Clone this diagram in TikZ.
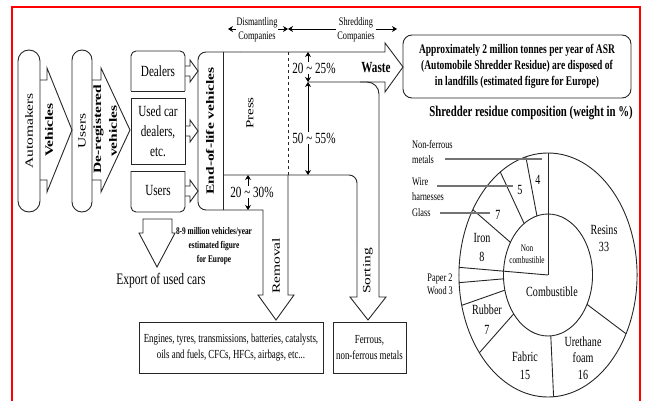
\documentclass[tikz,border=0pt]{standalone}
\usepackage{fontspec}
\setmainfont{Liberation Serif}[FakeStretch=0.72]
\newfontfamily\uprightfont{Liberation Serif}
\usepackage{graphicx}
\usepackage{tikz}
\usetikzlibrary{arrows,arrows.meta}
\newcommand{\pxfont}[2]{\fontsize{#1}{#2}\selectfont}
\newcommand{\vsq}[1]{\scalebox{1}[0.72]{#1}}
\tikzstyle{shp}        = [line width=0.9pt, draw=black!85]
\tikzstyle{rot}        = [rotate=90, inner sep=0pt, align=center]
\tikzstyle{txt}        = [inner sep=1pt, align=center]
\tikzstyle{whitebg}    = [fill=white, inner sep=1pt, align=center]
\tikzstyle{rangearrow} = [line width=0.7pt, {Stealth[length=5pt,width=6pt]}-{Stealth[length=5pt,width=6pt]}]
\tikzstyle{leader}     = [line width=1.3pt, draw=black!55]

\begin{document}
\begin{tikzpicture}[x=1pt,y=-1pt]
    \useasboundingbox (0,0) rectangle (645,401);
    \draw[red, line width=2pt] (12,401) -- (12,7) -- (640,7) -- (640,401);

    % automakers -> users
    \draw[shp, rounded corners=11pt] (18,50) rectangle (40,212);
    \draw[shp] (40,80) -- (47,80) -- (47,68) -- (72,130) -- (47,192) -- (47,180) -- (40,180);
    \draw[shp, rounded corners=10pt] (72,50) rectangle (92,212);
    \draw[shp] (92,80) -- (101,80) -- (101,68) -- (130,130) -- (101,192) -- (101,180) -- (92,180);
    \node[rot, font=\uprightfont\pxfont{15.5}{15}] (automakers) at (29,131) {\vsq{Automakers}};
    \node[rot, font=\uprightfont\bfseries\pxfont{15.5}{15}] (vehicles) at (49,130) {\vsq{Vehicles}};
    \node[rot, font=\uprightfont\pxfont{15.5}{15}] (users) at (82,131) {\vsq{Users}};
    \node[rot, font=\uprightfont\bfseries\pxfont{15.5}{15}] (dereg) at (98.5,129) {\vsq{De-registered}};
    \node[rot, font=\uprightfont\bfseries\pxfont{15.5}{15}] (deregveh) at (113,131) {\vsq{vehicles}};

    % dealers, used car dealers, users
    \draw[shp, rounded corners=5pt] (131,91) -- (131,51) -- (185,51) -- (185,91);
    \draw[shp] (131,91) -- (185,91);
    \draw[shp] (131,98) rectangle (185,164);
    \draw[shp, rounded corners=5pt] (131,171) -- (131,212) -- (185,212) -- (185,171);
    \draw[shp] (131,171) -- (185,171);
    \node[txt, font=\pxfont{15.5}{20}] (dealers) at (158,71) {Dealers};
    \node[txt, font=\pxfont{15.5}{20}] (usedcar) at (158,131) {Used car\\dealers,\\etc.};
    \node[txt, font=\pxfont{15.5}{20}] (owners) at (158,191) {Users};
    \foreach \yc in {71,131,191}
        \draw[shp] (185,\yc-5) -- (190,\yc-5) -- (190,\yc-11) -- (198,\yc) -- (190,\yc+11) -- (190,\yc+5) -- (185,\yc+5);

    % end-of-life vehicles, press, waste, removal, sorting
    \draw[shp, rounded corners=8pt] (240,52) -- (198,52) -- (198,210) -- (240,210);
    \draw[shp] (240,52) -- (385,52) -- (385,43) -- (403,67) -- (385,92) -- (385,82) -- (308,82);
    \draw[shp] (240,210) -- (263,210) -- (263,295) -- (258,295) -- (276,320) -- (294,295) -- (288,295) -- (288,175);
    \draw[shp, dashed] (288,175) -- (288,52);
    \draw[shp] (223,52) -- (223,210);
    \draw[shp, rounded corners=8pt] (223,175) -- (357,175) -- (357,240);
    \draw[shp] (357,240) -- (357,297) -- (350,297) -- (368,320) -- (386,297) -- (379,297) -- (379,240);
    \draw[shp, rounded corners=12pt] (360,82) -- (379,82) -- (379,240);
    \node[rot, font=\uprightfont\bfseries\pxfont{15.5}{15}] (eol) at (210,131) {\vsq{End-of-life vehicles}};
    \node[rot, font=\uprightfont\pxfont{15}{15}] (press) at (250,113) {\vsq{Press}};
    \node[rot, font=\uprightfont\pxfont{15.5}{15}] (removal) at (276,266) {\vsq{Removal}};
    \node[rot, font=\uprightfont\pxfont{15.5}{15}] (sorting) at (368,271) {\vsq{Sorting}};
    \node[txt, font=\bfseries\pxfont{15.5}{18}] (waste) at (376,68) {Waste};

    % companies
    \coordinate (d1) at (228,29);
    \coordinate (d2) at (288,29);
    \coordinate (d3) at (397,29);
    \draw[rangearrow] (d1) -- (d2);
    \draw[rangearrow] (d2) -- (d3);
    \node[whitebg, font=\pxfont{11.5}{14}] (dism) at (257,30) {Dismantling\\Companies};
    \node[whitebg, font=\pxfont{11.5}{14}] (shred) at (356,30) {Shredding\\Companies};

    % percentages
    \coordinate (p0) at (308,52);
    \coordinate (p1) at (308,82);
    \coordinate (p2) at (308,175);
    \coordinate (q0) at (248,175);
    \coordinate (q1) at (248,210);
    \draw[rangearrow] (p0) -- (p1);
    \draw[rangearrow] (p1) -- (p2);
    \draw[rangearrow] (q0) -- (q1);
    \node[whitebg, font=\pxfont{15.5}{18}] (r1) at (314,68) {20 \textasciitilde{} 25\%};
    \node[whitebg, font=\pxfont{15.5}{18}] (r2) at (314,138) {50 \textasciitilde{} 55\%};
    \node[whitebg, font=\pxfont{15.5}{18}] (r3) at (252,192) {20 \textasciitilde{} 30\%};

    % export
    \draw[shp] (143,219) -- (172,219) -- (172,233) -- (175,233) -- (157,267) -- (139,233) -- (143,233) -- cycle;
    \node[txt, font=\bfseries\pxfont{10.2}{14}] (million) at (214,246) {8-9 million vehicles/year\\estimated figure\\for Europe};
    \node[txt, font=\pxfont{16}{18}] (export) at (161,281) {Export of used cars};

    % outputs
    \node[shp, txt, minimum width=184pt, minimum height=51pt, font=\pxfont{12.3}{16}] (parts) at (231,347.5) {Engines, tyres, transmissions, batteries, catalysts,\\oils and fuels, CFCs, HFCs, airbags, etc...};
    \node[shp, txt, minimum width=73pt, minimum height=51pt, font=\pxfont{12.3}{16}] (metals) at (369.5,347.5) {Ferrous,\\non-ferrous metals};
    \node[shp, txt, rounded corners=9pt, minimum width=228pt, minimum height=63pt, font=\bfseries\pxfont{13.2}{16}] (asr) at (517,66.5) {Approximately 2 million tonnes per year of ASR\\(Automobile Shredder Residue) are disposed of\\in landfills (estimated figure for Europe)};

    % composition
    \node[txt, font=\bfseries\pxfont{15}{18}] (title) at (531,113) {Shredder residue composition (weight in \%)};
    \begin{scope}[shift={(548,275)}, x=0.73pt, y=1pt]
        \draw[shp] (0,0) circle [radius=122];
        \draw[shp] (0,0) circle [radius=61];
        \draw[shp] (0,0) -- (90:122);
        \draw[shp] (0,0) -- (176.4:122);
        \foreach \a in {104.4,122.4,147.6,183.6,194.4,219.6,273.6,331.2}
            \draw[shp] (\a:61) -- (\a:122);
    \end{scope}
    \node[txt, font=\pxfont{14}{17}] (resins) at (604,238) {Resins\\33};
    \node[txt, font=\pxfont{14}{16.5}] (urethane) at (583,358) {Urethane\\foam\\16};
    \node[txt, font=\pxfont{14}{18}] (fabric) at (525,366) {Fabric\\15};
    \node[txt, font=\pxfont{14}{20}] (rubber) at (487,320) {Rubber\\7};
    \node[txt, font=\pxfont{14}{19}] (iron) at (482,247) {Iron\\8};
    \node[txt, font=\pxfont{14}{17}] (combust) at (552,292) {Combustible};
    \node[txt, font=\pxfont{10}{12}] (noncomb) at (527,254) {Non\\combustible};
    \node[txt, font=\pxfont{14}{17}] (nfval) at (538,180) {4};
    \node[txt, font=\pxfont{14}{17}] (wireval) at (520,190) {5};
    \node[txt, font=\pxfont{14}{17}] (glassval) at (498,215) {7};
    \node[txt, font=\pxfont{11.5}{13}] (paperwood) at (440,284) {Paper 2\\Wood 3};
    \node[txt, anchor=west, align=left, font=\pxfont{11.5}{15}] (nf) at (411,152.5) {Non-ferrous\\metals};
    \node[txt, anchor=west, align=left, font=\pxfont{11.5}{15}] (wire) at (411,189.5) {Wire\\harnesses};
    \node[txt, anchor=west, align=left, font=\pxfont{11.5}{15}] (glass) at (411,213) {Glass};
    \coordinate (nfa) at (445,159);
    \coordinate (nfb) at (542,159);
    \coordinate (wia) at (437,186);
    \coordinate (wib) at (513,186);
    \coordinate (gla) at (440,213);
    \coordinate (glb) at (490,213);
    \draw[leader] (nfa) -- (nfb);
    \draw[leader] (wia) -- (wib);
    \draw[leader] (gla) -- (glb);
\end{tikzpicture}
\end{document}
